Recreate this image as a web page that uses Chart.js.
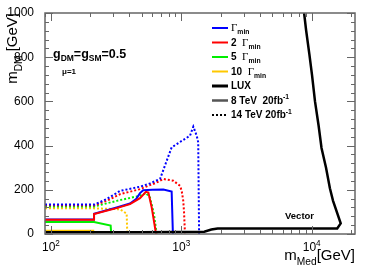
<!DOCTYPE html>
<html>
<head>
<meta charset="utf-8">
<script src="https://cdn.jsdelivr.net/npm/chart.js@4.4.1/dist/chart.umd.min.js"></script>
<style>
  html, body { margin: 0; padding: 0; background: #fff; }
</style>
</head>
<body>
<canvas id="chart" width="374" height="268"></canvas>
<script>
// axis ticks
const xTicks = [100, 1000, 10000];
const xTickExp = ['2', '3', '4'];
const yTicks = [0, 200, 400, 600, 800, 1000];

// curves: [mMed, mDM] in GeV
const gmin8 = [[90, 66], [214, 66], [214, 92], [319, 120], [404, 138], [450, 158], [482, 185], [510, 198], [600, 200], [728, 201], [843, 192], [862, 0]];
const g2min8 = [[90, 64], [214, 64], [214, 90], [319, 117], [404, 135], [482, 162], [535, 191], [559, 188], [593, 120], [640, 0]];
const g5min8 = [[90, 54], [214, 54], [287, 38], [290, 0]];
const g10min8 = [[90, 15], [211, 15], [211, 0]];
const gmin14 = [[90, 134], [217, 134], [267, 158], [339, 195], [482, 214], [575, 229], [687, 249], [760, 320], [843, 392], [1000, 420], [1167, 445], [1236, 486], [1312, 445], [1348, 415], [1369, 0]];
const g2min14 = [[90, 130], [217, 130], [267, 150], [339, 180], [482, 203], [647, 233], [728, 249], [869, 241], [978, 218], [1007, 195], [1035, 150], [1049, 100], [1067, 0]];
const g5min14 = [[90, 125], [217, 125], [319, 150], [482, 173], [535, 186], [575, 165], [617, 90], [647, 0]];
const g10min14 = [[90, 116], [214, 116], [339, 112], [381, 92], [385, 0]];
const lux = [[90, 8], [500, 8], [1500, 10], [1700, 20], [1900, 25], [15700, 25], [16700, 48], [14590, 150], [13800, 207], [12890, 300], [11900, 389], [11300, 491], [10600, 601], [10070, 718], [9600, 814], [9060, 923], [8750, 1000]];

// legend rows: text segments and line style
const legendRows = [
  { segs: [['Γ', 'g'], ['min', 'sub']], color: '#0000ff', dash: [], w: 2 },
  { segs: [['2  ', 'b'], ['Γ', 'g'], ['min', 'sub']], color: '#ff0000', dash: [], w: 2 },
  { segs: [['5  ', 'b'], ['Γ', 'g'], ['min', 'sub']], color: '#00ee00', dash: [], w: 2 },
  { segs: [['10  ', 'b'], ['Γ', 'g'], ['min', 'sub']], color: '#ffc800', dash: [], w: 2 },
  { segs: [['LUX', 'b']], color: '#000', dash: [], w: 3 },
  { segs: [['8 TeV  20fb', 'b'], ['-1', 'sup']], color: '#555', dash: [], w: 2.5 },
  { segs: [['14 TeV 20fb', 'b'], ['-1', 'sup']], color: '#000', dash: [2, 2], w: 2 }
];

const FONT = '"Liberation Sans", Arial, sans-serif';

function rich(ctx, x, y, segs, size, weight, align) {
  const fontFor = k => {
    if (k === 'g') return (size * 1.1) + 'px "Liberation Serif", serif';
    if (k === 'sub' || k === 'sup') return weight + ' ' + (size * 0.68) + 'px ' + FONT;
    return weight + ' ' + size + 'px ' + FONT;
  };
  let total = 0;
  segs.forEach(s => { ctx.font = fontFor(s[1]); total += ctx.measureText(s[0]).width; });
  let cx = align === 'right' ? x - total : align === 'center' ? x - total / 2 : x;
  ctx.textAlign = 'left';
  ctx.textBaseline = 'alphabetic';
  segs.forEach(s => {
    ctx.font = fontFor(s[1]);
    const dy = s[1] === 'sub' ? size * 0.3 : s[1] === 'sup' ? -size * 0.45 : 0;
    ctx.fillText(s[0], cx, y + dy);
    cx += ctx.measureText(s[0]).width;
  });
}

const decor = {
  id: 'decor',
  afterDatasetsDraw(chart) {
    const ctx = chart.ctx;
    const a = chart.chartArea;
    const xs = chart.scales.x, ys = chart.scales.y;
    ctx.save();
    ctx.strokeStyle = '#666';
    ctx.lineWidth = 1.5;
    ctx.strokeRect(a.left, a.top, a.right - a.left, a.bottom - a.top);

    ctx.lineWidth = 1;
    ctx.beginPath();
    // y ticks, both sides
    for (let v = ys.min; v <= ys.max; v += 40) {
      const py = Math.round(ys.getPixelForValue(v)) + 0.5;
      const len = v % 200 === 0 ? 8 : 4;
      ctx.moveTo(a.left, py); ctx.lineTo(a.left + len, py);
      ctx.moveTo(a.right, py); ctx.lineTo(a.right - len, py);
    }
    // x ticks, bottom and top
    for (let e = 1; e <= 4; e++) {
      for (let k = 1; k <= 9; k++) {
        const v = k * Math.pow(10, e);
        if (v < xs.min || v > xs.max) continue;
        const px = Math.round(xs.getPixelForValue(v)) + 0.5;
        const len = k === 1 ? 8 : 4;
        ctx.moveTo(px, a.bottom); ctx.lineTo(px, a.bottom - len);
        ctx.moveTo(px, a.top); ctx.lineTo(px, a.top + len);
      }
    }
    ctx.stroke();

    ctx.fillStyle = '#000';
    // x tick labels
    xTicks.forEach((v, i) => {
      rich(ctx, xs.getPixelForValue(v), 251, [['10', 'n'], [xTickExp[i], 'sup']], 12, 'normal', 'center');
    });
    // axis titles
    rich(ctx, a.right, 260, [['m', 'n'], ['Med', 'sub'], ['[GeV]', 'n']], 15, 'normal', 'right');
    ctx.save();
    ctx.translate(17, a.top);
    ctx.rotate(-Math.PI / 2);
    rich(ctx, 0, 0, [['m', 'n'], ['DM', 'sub'], [' [GeV]', 'n']], 15, 'normal', 'right');
    ctx.restore();

    // annotations
    rich(ctx, 53, 57.5, [['g', 'b'], ['DM', 'sub'], ['=g', 'b'], ['SM', 'sub'], ['=0.5', 'b']], 12.5, 'bold', 'left');
    rich(ctx, 62, 74, [['μ=1', 'b']], 8, 'bold', 'left');
    rich(ctx, 285, 219, [['Vector', 'b']], 9.5, 'bold', 'left');

    // legend
    legendRows.forEach((r, i) => {
      const y = 28 + i * 14.5;
      ctx.beginPath();
      ctx.strokeStyle = r.color;
      ctx.lineWidth = r.w;
      ctx.setLineDash(r.dash);
      ctx.moveTo(212, y); ctx.lineTo(228, y);
      ctx.stroke();
      ctx.setLineDash([]);
      rich(ctx, 231, y + 3, r.segs, 10, 'bold', 'left');
    });
    ctx.restore();
  }
};

function series(pts, color, dotted, width, order) {
  return {
    data: pts.map(p => ({ x: p[0], y: p[1] })),
    borderColor: color,
    backgroundColor: color,
    borderWidth: width,
    borderDash: dotted ? [2, 2] : [],
    borderCapStyle: 'butt',
    pointRadius: 0,
    showLine: true,
    fill: false,
    tension: 0,
    order: order
  };
}

new Chart(document.getElementById('chart'), {
  type: 'scatter',
  data: {
    datasets: [
      series(lux, '#000', false, 2.5, 0),
      series(g10min14, '#ffc800', true, 2, 9),
      series(g5min14, '#00ee00', true, 2, 8),
      series(g2min14, '#ff0000', true, 2, 7),
      series(gmin14, '#0000ff', true, 2, 6),
      series(g10min8, '#ffc800', false, 2, 5),
      series(g5min8, '#00ee00', false, 2, 4),
      series(gmin8, '#0000ff', false, 2, 3),
      series(g2min8, '#ff0000', false, 2, 2)
    ]
  },
  options: {
    responsive: false,
    animation: false,
    events: [],
    layout: { padding: { top: 13, right: 19, left: 0, bottom: 0 } },
    plugins: { legend: { display: false }, tooltip: { enabled: false } },
    scales: {
      x: {
        type: 'logarithmic',
        min: 90,
        max: 21500,
        grid: { display: false },
        border: { display: false },
        ticks: { display: false },
        afterFit: s => { s.height = 34; }
      },
      y: {
        min: 0,
        max: 1000,
        grid: { display: false },
        border: { display: false },
        afterBuildTicks: s => { s.ticks = yTicks.map(v => ({ value: v })); },
        ticks: {
          padding: 3,
          color: '#000',
          font: { family: FONT, size: 12 },
          callback: v => String(v)
        },
        afterFit: s => { s.width = 45; }
      }
    }
  },
  plugins: [decor]
});
</script>
</body>
</html>
